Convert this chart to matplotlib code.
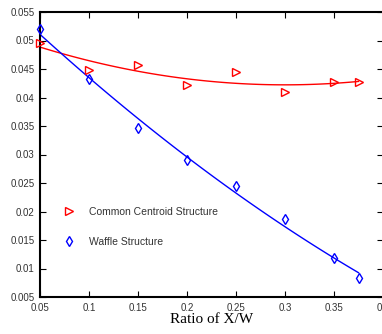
import matplotlib
matplotlib.use("Agg")
from matplotlib import pyplot as plt
import numpy as np

# ratio of X/W where each structure was evaluated
ratio = [0.05, 0.1, 0.15, 0.2, 0.25, 0.3, 0.35, 0.375]
# common centroid structure
centroid = [0.0496, 0.0448, 0.0457, 0.0422, 0.0444, 0.0410, 0.0427, 0.0428]
# waffle structure
waffle = [0.0520, 0.0432, 0.0346, 0.0290, 0.0245, 0.0187, 0.0118, 0.0083]

xticks = [0.05, 0.1, 0.15, 0.2, 0.25, 0.3, 0.35, 0.4]
xticklabels = ['0.05', '0.1', '0.15', '0.2', '0.25', '0.3', '0.35', '0.4']
yticks = [0.005, 0.01, 0.015, 0.02, 0.025, 0.03, 0.035, 0.04, 0.045, 0.05, 0.055]
yticklabels = ['0.005', '0.01', '0.015', '0.02', '0.025', '0.03', '0.035',
               '0.04', '0.045', '0.05', '0.055']

fig = plt.figure(figsize=(3.82, 3.34), dpi=100)
ax = fig.add_axes([40 / 382, 1 - 297 / 334, 343 / 382, 285 / 334])

# quadratic least-squares trend for each structure
xfit = np.linspace(0.05, 0.375, 100)
for y, col in [(centroid, 'red'), (waffle, 'blue')]:
    coef = np.polyfit(ratio, y, 2)
    ax.plot(xfit, np.polyval(coef, xfit), color=col, lw=1.0, zorder=2)

ax.plot(ratio, centroid, ls='none', marker='>', ms=5.5, mfc='none', mec='red',
        mew=1.0, label='Common Centroid Structure', clip_on=False, zorder=3)
ax.plot(ratio, waffle, ls='none', marker='d', ms=5.5, mfc='none', mec='blue',
        mew=1.0, label='Waffle Structure', clip_on=False, zorder=3)

ax.set_xlim(0.05, 0.4)
ax.set_ylim(0.005, 0.055)
ax.set_xticks(xticks)
ax.set_xticklabels(xticklabels, fontsize=7, family='Liberation Sans', color='#333333')
ax.set_yticks(yticks)
ax.set_yticklabels(yticklabels, fontsize=7, family='Liberation Sans', color='#333333')
ax.tick_params(direction='in', top=True, right=True, length=4, width=0.8, pad=4)
for s in ax.spines.values():
    s.set_linewidth(1.5)

ax.set_xlabel('Ratio of X/W', family='Liberation Serif', fontsize=11, labelpad=0)

ax.legend(loc='center left', bbox_to_anchor=(0.04, 0.247), frameon=False,
          prop={'family': 'Liberation Sans', 'size': 7.5},
          handlelength=1.2, handletextpad=1.3, labelspacing=1.9, numpoints=1)
for t in ax.get_legend().get_texts():
    t.set_color('#333333')

fig.savefig('out.png', dpi=100)
